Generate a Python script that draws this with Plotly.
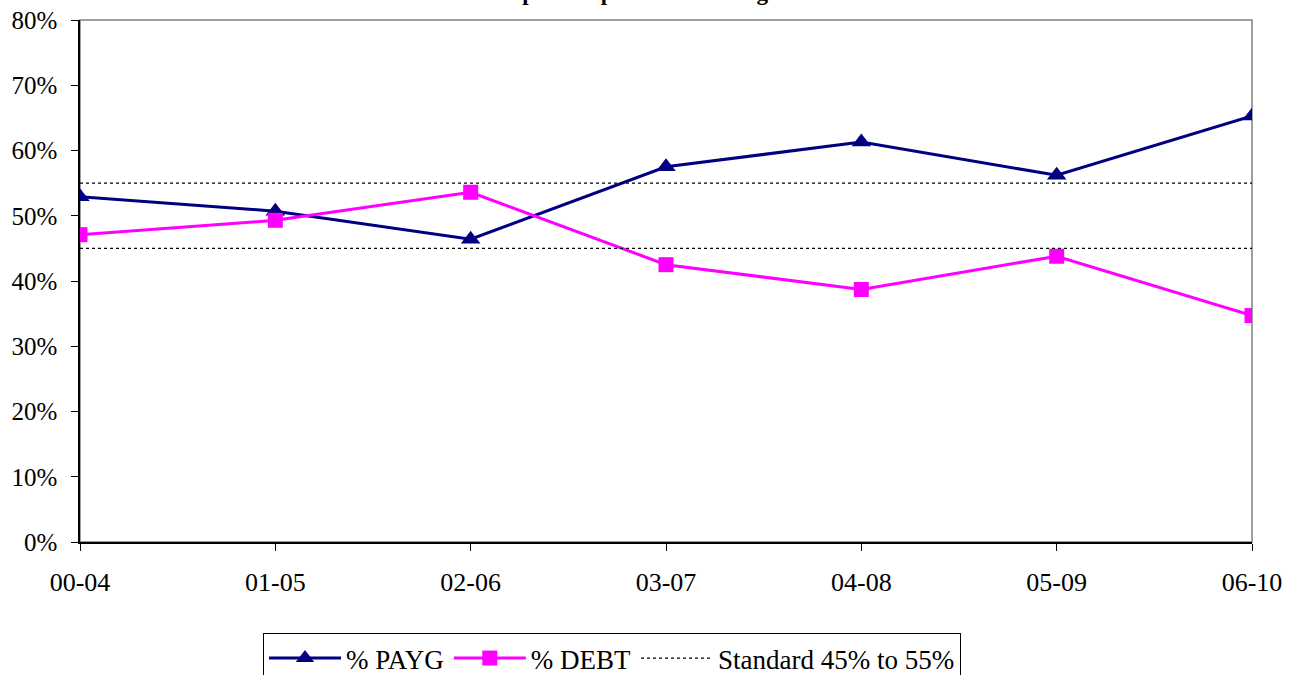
import plotly.graph_objects as go

categories = ["00-04", "01-05", "02-06", "03-07", "04-08", "05-09", "06-10"]
payg = [52.9, 50.7, 46.4, 57.5, 61.3, 56.2, 65.3]
debt = [47.1, 49.3, 53.6, 42.5, 38.7, 43.8, 34.7]
std_low = [45] * len(categories)
std_high = [55] * len(categories)
title_text = "General Fund Capital Improvements Program"

FONT = "Liberation Serif, Times New Roman, serif"

fig = go.Figure()
fig.add_trace(go.Scatter(x=categories, y=payg, name="% PAYG", mode="lines+markers",
                         line=dict(color="#000080", width=3),
                         marker=dict(symbol="triangle-up", size=17, color="#000080")))
fig.add_trace(go.Scatter(x=categories, y=debt, name="% DEBT", mode="lines+markers",
                         line=dict(color="#FF00FF", width=3),
                         marker=dict(symbol="square", size=15, color="#FF00FF")))
fig.add_trace(go.Scatter(x=categories, y=std_high, name="Standard 45% to 55%", mode="lines",
                         line=dict(color="black", width=1.3, dash="dot")))
fig.add_trace(go.Scatter(x=categories, y=std_low, name="Standard 45% to 55%", mode="lines",
                         line=dict(color="black", width=1.3, dash="dot"), showlegend=False))

fig.update_layout(
    width=1297, height=675,
    margin=dict(l=80, r=45, t=20, b=133, autoexpand=False),
    paper_bgcolor="white", plot_bgcolor="white",
    font=dict(family=FONT, size=25, color="black"),
    showlegend=True,
    legend=dict(orientation="h", x=(263 - 80) / 1172, xanchor="left",
                y=-(633 - 542) / 522, yanchor="top",
                bordercolor="black", borderwidth=1, font=dict(size=27, family=FONT),
                itemwidth=72, tracegroupgap=0),
    shapes=[dict(type="rect", xref="paper", yref="paper", x0=0, x1=1, y0=0, y1=1,
                 line=dict(color="#808080", width=1.5), layer="below")],
    annotations=[dict(text="<b>" + title_text + "</b>", xref="paper", yref="paper",
                      x=(580 - 80) / 1172, y=1 + 13 / 522, xanchor="center",
                      yanchor="bottom", showarrow=False,
                      font=dict(size=23, family=FONT, color="black"))],
)
fig.update_xaxes(type="category", range=[0, 6], showgrid=False, zeroline=False,
                 automargin=False,
                 showline=True, linecolor="black", linewidth=1.5,
                 ticks="outside", ticklen=7, tickcolor="black", ticklabelstandoff=9,
                 tickfont=dict(size=26, family=FONT))
fig.update_yaxes(range=[0, 80], dtick=10, ticksuffix="%", showgrid=False, zeroline=False,
                 automargin=False,
                 showline=True, linecolor="black", linewidth=1.5,
                 ticks="outside", ticklen=7, tickcolor="black", ticklabelstandoff=9,
                 tickfont=dict(size=25, family=FONT))

fig.write_html("out.html", config={"displayModeBar": False},
               post_script="document.body.style.margin='0';document.body.style.overflow='hidden';")
